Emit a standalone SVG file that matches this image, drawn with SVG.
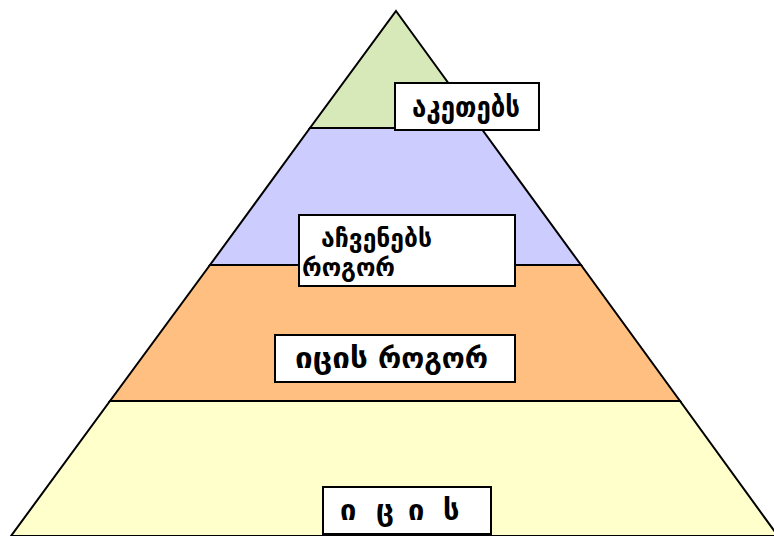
<svg xmlns="http://www.w3.org/2000/svg" width="774" height="536" viewBox="0 0 774 536">
  <style>
    .tier { stroke: #000; stroke-width: 2; stroke-linejoin: miter; }
    .box { fill: #fff; stroke: #000; stroke-width: 2; }
    .lbl { font-family: "DejaVu Sans", "Noto Sans", sans-serif; font-size: 29px; font-weight: bold; fill: #000; }
    .two { font-size: 25px; }
  </style>
  <rect width="774" height="536" fill="#fff"/>

  <!-- pyramid tiers, bottom to top -->
  <g id="tier-knows">
    <polygon class="tier" points="110,401 680,401 778,536 11,536" fill="#ffffcc"/>
  </g>
  <g id="tier-knows-how">
    <polygon class="tier" points="210,265 581,265 680,401 110,401" fill="#ffbf80"/>
  </g>
  <g id="tier-shows-how">
    <polygon class="tier" points="310,128 481,128 581,265 210,265" fill="#ccccff"/>
  </g>
  <g id="tier-does">
    <polygon class="tier" points="396,11 481,128 310,128" fill="#d7e9b9"/>
  </g>

  <!-- labels -->
  <g id="label-does">
    <rect class="box" x="395" y="83" width="144" height="47"/>
    <text class="lbl" x="412" y="117" textLength="108" lengthAdjust="spacingAndGlyphs">აკეთებს</text>
  </g>
  <g id="label-shows-how">
    <rect class="box" x="299" y="215" width="216" height="71"/>
    <text class="lbl two" x="321" y="247" textLength="111" lengthAdjust="spacingAndGlyphs">აჩვენებს</text>
    <text class="lbl two" x="302" y="276" textLength="93" lengthAdjust="spacingAndGlyphs">როგორ</text>
  </g>
  <g id="label-knows-how">
    <rect class="box" x="275" y="335" width="240" height="47"/>
    <text class="lbl" x="295" y="368" textLength="73" lengthAdjust="spacingAndGlyphs">იცის</text>
    <text class="lbl" x="378" y="368" textLength="110" lengthAdjust="spacingAndGlyphs">როგორ</text>
  </g>
  <g id="label-knows">
    <rect class="box" x="323" y="487" width="168" height="47"/>
    <text class="lbl" y="520"><tspan x="340">ი</tspan><tspan x="376">ც</tspan><tspan x="408">ი</tspan><tspan x="443">ს</tspan></text>
  </g>
</svg>
